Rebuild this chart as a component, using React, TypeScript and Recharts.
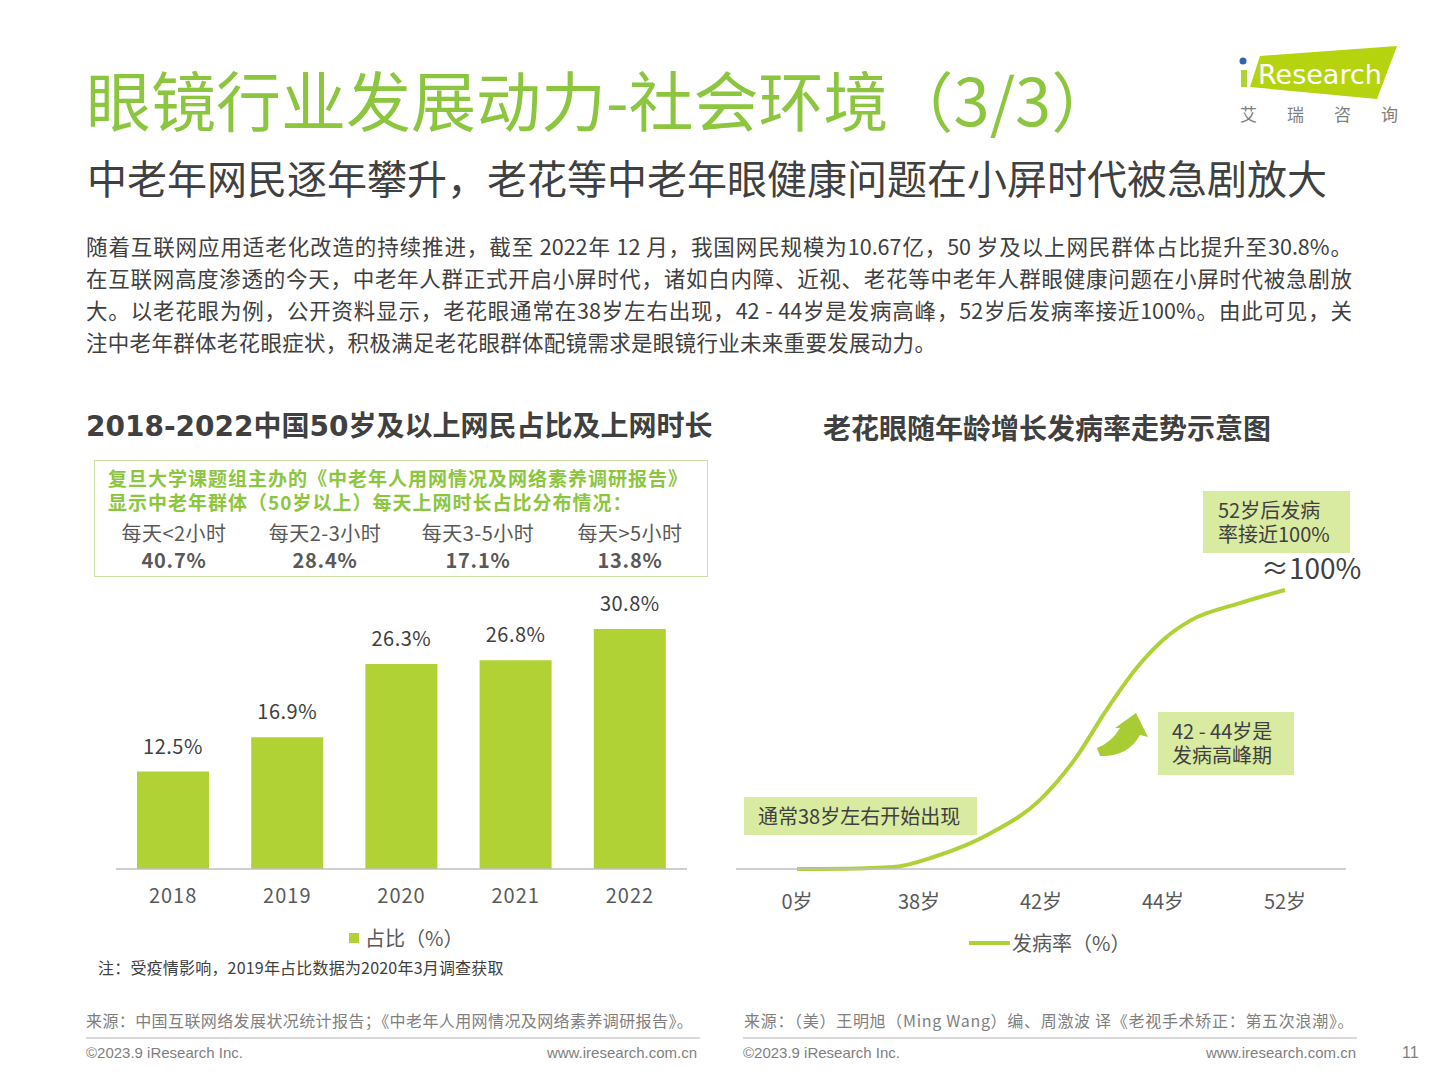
import React from 'react';
import { BarChart, Bar, XAxis, YAxis, LabelList, LineChart, Line } from 'recharts';

// 左图：50岁及以上网民占比
const years = ['2018', '2019', '2020', '2021', '2022'];
const shareValues = [12.5, 16.9, 26.3, 26.8, 30.8];

// 上网时长分布
const durationLabels = ['每天<2小时', '每天2-3小时', '每天3-5小时', '每天>5小时'];
const durationValues = ['40.7%', '28.4%', '17.1%', '13.8%'];

// 右图：老花眼发病率示意曲线（x 为年龄刻度序号）
const ageLabels = ['0岁', '38岁', '42岁', '44岁', '52岁'];
const curveX = [0, 0.4, 0.79, 1.12, 1.59, 1.99, 2.29, 2.52, 2.79, 3.0, 3.23, 3.63, 4.0];
const curveY = [0, 0.1, 0.7, 4.3, 12.9, 24.7, 40.1, 55.9, 72.4, 82.1, 89.2, 95.3, 100];

const GREEN = '#b0d235';
const TITLE_GREEN = '#8cc63e';
const CJK = '"Noto Sans CJK SC", "Noto Sans", sans-serif';
const LATIN = '"Liberation Sans", Arial, sans-serif';
const WIDE_DIGITS = '"DejaVu Sans", "Noto Sans CJK SC", sans-serif';

const barData = years.map((y, i) => ({ year: y, share: shareValues[i] }));
const lineData = curveX.map((x, i) => ({ x, rate: curveY[i] }));

const abs = (left: number, top: number, extra: React.CSSProperties = {}): React.CSSProperties => ({
  position: 'absolute',
  left,
  top,
  ...extra,
});

const paragraph = [
  '随着互联网应用适老化改造的持续推进，截至 2022年 12 月，我国网民规模为10.67亿，50 岁及以上网民群体占比提升至30.8%。',
  '在互联网高度渗透的今天，中老年人群正式开启小屏时代，诸如白内障、近视、老花等中老年人群眼健康问题在小屏时代被急剧放',
  '大。以老花眼为例，公开资料显示，老花眼通常在38岁左右出现，42 - 44岁是发病高峰，52岁后发病率接近100%。由此可见，关',
  '注中老年群体老花眼症状，积极满足老花眼群体配镜需求是眼镜行业未来重要发展动力。',
];

const noteBox: React.CSSProperties = {
  background: '#d9eaa1',
  boxSizing: 'border-box',
  fontSize: 20,
  color: '#404040',
  whiteSpace: 'nowrap',
};

export default function App() {
  return (
    <div style={{ position: 'absolute', left: 0, top: 0, width: 1440, height: 1080, background: '#fff', fontFamily: CJK, overflow: 'hidden' }}>
      {/* 标题 */}
      <div style={abs(86, 55, { fontSize: 65, color: TITLE_GREEN, lineHeight: '86px', whiteSpace: 'nowrap' })}>
        眼镜行业发展动力-社会环境（3/3）
      </div>
      <div style={abs(87, 150, { fontSize: 40, color: '#404040', lineHeight: '54px', whiteSpace: 'nowrap' })}>
        中老年网民逐年攀升，老花等中老年眼健康问题在小屏时代被急剧放大
      </div>

      {/* logo */}
      <svg style={abs(1230, 40)} width={180} height={90}>
        <polygon points="30,16 167,6 147,59 20,47" fill="#b5d40f" />
        <rect x={11} y={30} width={6} height={17} fill={GREEN} />
        <circle cx={13} cy={21} r={3.5} fill="#2e64b0" />
        <text x={28} y={44} fontSize={27} fill="#fff" fontFamily="'DejaVu Sans', sans-serif">Research</text>
      </svg>
      <div style={abs(1240, 103, { fontSize: 17, color: '#808080', letterSpacing: 30, whiteSpace: 'nowrap', lineHeight: '22px' })}>
        艾瑞咨询
      </div>

      {/* 正文 */}
      {paragraph.map((line, i) => (
        <div
          key={i}
          style={abs(86, 230 + i * 32, {
            width: 1266,
            fontSize: 21.5,
            lineHeight: '32px',
            color: '#404040',
            whiteSpace: 'nowrap',
            textAlign: i < 3 ? 'justify' : 'left',
            textAlignLast: i < 3 ? 'justify' : 'left',
            letterSpacing: i === 3 ? 0.3 : 0,
          })}
        >
          {line}
        </div>
      ))}

      {/* 左图标题 */}
      <div style={abs(86, 404, { fontSize: 28, fontWeight: 700, color: '#404040', whiteSpace: 'nowrap', lineHeight: '40px' })}>
        <span style={{ fontFamily: WIDE_DIGITS }}>2018-2022</span>中国<span style={{ fontFamily: WIDE_DIGITS }}>50</span>岁及以上网民占比及上网时长
      </div>
      <div style={abs(94, 460, { width: 614, height: 117, border: '1px solid #c9e2a3', boxSizing: 'border-box' })} />
      <div style={abs(108, 466, { fontSize: 19, fontWeight: 700, color: TITLE_GREEN, lineHeight: '24px', whiteSpace: 'nowrap', letterSpacing: 1 })}>
        <div>复旦大学课题组主办的《中老年人用网情况及网络素养调研报告》</div>
        <div>显示中老年群体（50岁以上）每天上网时长占比分布情况：</div>
      </div>
      {durationLabels.map((lab, i) => (
        <div key={lab} style={abs([174, 325, 478, 630][i] - 80, 519, { width: 160, textAlign: 'center', color: '#595959', lineHeight: '27px' })}>
          <div style={{ fontSize: 20, letterSpacing: 0.5 }}>{lab}</div>
          <div style={{ fontSize: 20, fontWeight: 700, letterSpacing: 0.8 }}>{durationValues[i]}</div>
        </div>
      ))}

      <div style={abs(96, 540)}>
        <BarChart width={620} height={380} data={barData} margin={{ top: 56.3, right: 29, left: 20, bottom: 20 }}>
          <XAxis
            dataKey="year"
            height={31}
            tickLine={false}
            tickMargin={14}
            axisLine={{ stroke: '#bfbfbf', strokeWidth: 1.5 }}
            tick={{ fontSize: 20, fill: '#595959', fontFamily: CJK, letterSpacing: 1 }}
          />
          <YAxis hide domain={[0, 35]} />
          <Bar dataKey="share" fill={GREEN} barSize={72} isAnimationActive={false}>
            <LabelList
              dataKey="share"
              position="top"
              offset={18}
              formatter={(v: any) => `${Number(v).toFixed(1)}%`}
              style={{ fontSize: 20, fill: '#404040', fontFamily: CJK, letterSpacing: 0.5 }}
            />
          </Bar>
        </BarChart>
      </div>
      <div style={abs(349, 933, { width: 10, height: 10, background: GREEN })} />
      <div style={abs(365, 924, { fontSize: 20, color: '#595959', lineHeight: '28px', whiteSpace: 'nowrap' })}>占比（%）</div>
      <div style={abs(98, 956, { fontSize: 16, color: '#404040', lineHeight: '22px', whiteSpace: 'nowrap', letterSpacing: 0.2 })}>
        注：受疫情影响，2019年占比数据为2020年3月调查获取
      </div>

      {/* 右图 */}
      <div style={abs(823, 407, { fontSize: 28, fontWeight: 700, color: '#404040', whiteSpace: 'nowrap', lineHeight: '40px' })}>
        老花眼随年龄增长发病率走势示意图
      </div>
      <div style={abs(726, 560)}>
        <LineChart width={640} height={370} data={lineData} margin={{ top: 30, right: 20, left: 10, bottom: 20 }}>
          <XAxis
            type="number"
            dataKey="x"
            domain={[-0.5, 4.5]}
            ticks={[0, 1, 2, 3, 4]}
            tickFormatter={(v: number) => ageLabels[v] ?? ''}
            height={41}
            tickLine={false}
            tickMargin={20}
            axisLine={{ stroke: '#bfbfbf', strokeWidth: 1.5 }}
            tick={{ fontSize: 20, fill: '#595959', fontFamily: CJK }}
          />
          <YAxis hide domain={[0, 100]} />
          <Line type="monotone" dataKey="rate" stroke="#aed136" strokeWidth={4} dot={false} isAnimationActive={false} />
        </LineChart>
      </div>

      <div style={abs(744, 797, { ...noteBox, width: 233, height: 38, paddingLeft: 14, lineHeight: '38px' })}>
        通常38岁左右开始出现
      </div>
      <div style={abs(1158, 712, { ...noteBox, width: 136, height: 63, padding: '7px 0 0 14px', lineHeight: '24px' })}>
        <div>42 - 44岁是</div>
        <div>发病高峰期</div>
      </div>
      <div style={abs(1203, 491, { ...noteBox, width: 147, height: 62, padding: '7px 0 0 15px', lineHeight: '24px' })}>
        <div>52岁后发病</div>
        <div>率接近100%</div>
      </div>
      <div style={abs(1261, 548, { fontSize: 28, color: '#404040', lineHeight: '38px', whiteSpace: 'nowrap' })}>≈100%</div>
      <svg style={abs(1080, 700)} width={80} height={70}>
        <path d="M 17 48 Q 32 42 40 28 L 35 28 L 56 13 L 68 37 L 60 35 Q 48 57 20 56 Z" fill="#a8cc34" />
      </svg>

      <div style={abs(969, 941, { width: 41, height: 4, background: '#aed136' })} />
      <div style={abs(1012, 929, { fontSize: 20, color: '#595959', lineHeight: '28px', whiteSpace: 'nowrap' })}>发病率（%）</div>

      {/* 页脚 */}
      <div style={abs(86, 1009, { fontSize: 16, color: '#7f7f7f', lineHeight: '22px', whiteSpace: 'nowrap', letterSpacing: 0.4 })}>
        来源：中国互联网络发展状况统计报告；《中老年人用网情况及网络素养调研报告》。
      </div>
      <div style={abs(86, 1037, { width: 614, height: 2, background: '#d9d9d9' })} />
      <div style={abs(86, 1043, { fontSize: 15, color: '#7f7f7f', lineHeight: '20px', fontFamily: LATIN })}>©2023.9 iResearch Inc.</div>
      <div style={abs(497, 1043, { width: 200, textAlign: 'right', fontSize: 15, color: '#7f7f7f', lineHeight: '20px', fontFamily: LATIN })}>www.iresearch.com.cn</div>

      <div style={abs(744, 1009, { fontSize: 16, color: '#7f7f7f', lineHeight: '22px', whiteSpace: 'nowrap', letterSpacing: 0.7 })}>
        来源：（美）王明旭（Ming Wang）编、周激波 译《老视手术矫正：第五次浪潮》。
      </div>
      <div style={abs(743, 1037, { width: 614, height: 2, background: '#d9d9d9' })} />
      <div style={abs(743, 1043, { fontSize: 15, color: '#7f7f7f', lineHeight: '20px', fontFamily: LATIN })}>©2023.9 iResearch Inc.</div>
      <div style={abs(1156, 1043, { width: 200, textAlign: 'right', fontSize: 15, color: '#7f7f7f', lineHeight: '20px', fontFamily: LATIN })}>www.iresearch.com.cn</div>
      <div style={abs(1402, 1043, { fontSize: 16, color: '#7f7f7f', lineHeight: '20px', fontFamily: LATIN })}>11</div>
    </div>
  );
}
